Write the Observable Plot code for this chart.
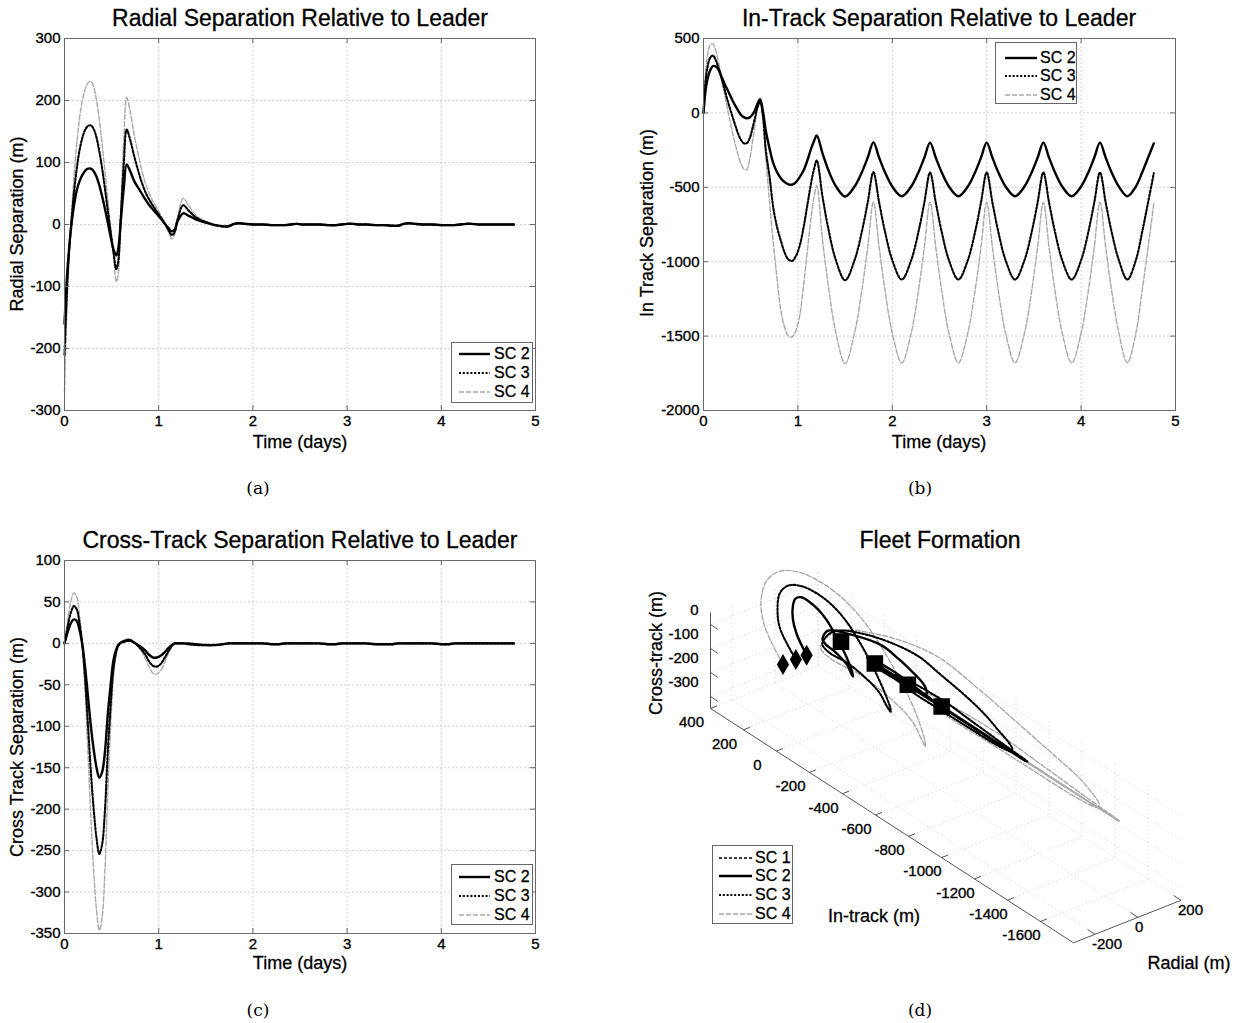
<!DOCTYPE html>
<html><head><meta charset="utf-8">
<script src="https://cdn.jsdelivr.net/npm/d3@7"></script>
<script src="https://cdn.jsdelivr.net/npm/@observablehq/plot@0.6"></script>
<style>
body{margin:0;background:#fff;}
#page{position:relative;width:1239px;height:1023px;overflow:hidden;font-family:"Liberation Sans",Arial,sans-serif;color:#000;}
#page svg text{stroke:#000;stroke-width:0.35px;}
.t{position:absolute;white-space:nowrap;transform:translate(-50%,-50%);-webkit-text-stroke:0.3px #000;}
.title{font-size:23px;}
.alab{font-size:18px;}
.cap{font-family:"DejaVu Serif","Liberation Serif",serif;font-size:17px;-webkit-text-stroke:0;}
.leg{position:absolute;background:#fff;border:1px solid #666;box-sizing:border-box;}
.leg .row{position:absolute;font-size:16px;line-height:16px;-webkit-text-stroke:0.3px #000;}
</style></head><body><div id="page"></div>
<script>
// ---------------- data ----------------
const T = [0,0.02,0.04,0.07,0.1,0.13,0.16,0.19,0.22,0.25,0.28,0.31,0.34,0.37,0.4,0.43,0.46,0.49,0.52,0.55,0.57,0.6,0.63,0.66,0.7,0.74,0.78,0.82,0.86,0.9,0.94,0.98,1.02,1.06,1.1,1.14,1.17,1.2,
 1.26,1.32,1.4,1.5,1.6,1.68,1.74,1.8,
 1.86,1.92,2.0,2.1,2.2,2.28,2.34,2.4,
 2.46,2.52,2.6,2.7,2.8,2.88,2.94,3.0,
 3.06,3.12,3.2,3.3,3.4,3.48,3.54,3.6,
 3.66,3.72,3.8,3.9,4.0,4.08,4.14,4.2,
 4.26,4.32,4.4,4.49,4.58,4.65,4.71,4.77];

const radialSC2 = [-160,-100,-55,-5,30,55,70,80,87,90,90,86,77,63,45,25,3,-20,-40,-50,-40,10,60,97,85,70,60,50,40,31,24,17,10,2,-5,-11,-8,5,
 18,14,8,3,-1,-3,-3,1, 2,1,0,0,-1,-1,-1,0, 1,0,0,0,-1,-1,0,1, 1,0,0,-1,-1,-2,-2,1, 2,1,0,0,-1,-1,-1,0, 1,1,0,0,0,0,0,0];
const radialSC3 = [-210,-130,-65,0,50,90,120,140,153,159,160,154,140,118,90,57,22,-12,-45,-72,-60,20,100,153,135,110,88,68,52,40,30,21,12,3,-8,-17,-12,8,
 31,22,11,4,-1,-3,-3,1, 2,1,0,0,-1,-1,-1,0, 1,0,0,0,-1,-1,0,1, 1,0,0,-1,-1,-2,-2,1, 2,1,0,0,-1,-1,-1,0, 1,1,0,0,0,0,0,0];
const radialSC4 = [-270,-165,-80,5,75,130,172,200,218,228,231,222,200,168,128,85,40,-5,-50,-92,-80,30,140,205,180,145,115,88,66,50,37,27,15,4,-10,-23,-16,10,
 42,30,14,5,-1,-3,-3,1, 2,1,0,0,-1,-1,-1,0, 1,0,0,0,-1,-1,0,1, 1,0,0,-1,-1,-2,-2,1, 2,1,0,0,-1,-1,-1,0, 1,1,0,0,0,0,0,0];

const inTrackSC2 = [0,140,220,285,315,312,290,245,200,160,120,80,45,12,-15,-30,-36,-30,-10,25,60,92,10,-120,-240,-340,-400,-440,-465,-480,-482,-465,-430,-387,-320,-240,-190,-152,
 -270,-380,-490,-562,-495,-395,-300,-198,
 -300,-395,-495,-560,-495,-395,-300,-200,
 -300,-395,-495,-560,-495,-395,-300,-200,
 -300,-395,-495,-560,-495,-395,-300,-200,
 -300,-395,-495,-560,-495,-395,-300,-200,
 -300,-395,-495,-560,-495,-395,-300,-205];
const inTrackSC3 = [0,200,300,370,385,355,300,235,165,95,30,-30,-90,-145,-185,-205,-203,-170,-100,-20,35,75,-20,-250,-430,-640,-770,-860,-940,-985,-995,-960,-890,-770,-620,-470,-380,-320,
 -560,-770,-985,-1125,-990,-790,-600,-398,
 -600,-790,-990,-1120,-990,-790,-600,-400,
 -600,-790,-990,-1120,-990,-790,-600,-400,
 -600,-790,-990,-1120,-990,-790,-600,-400,
 -600,-790,-990,-1120,-990,-790,-600,-400,
 -600,-790,-990,-1120,-990,-790,-600,-405];
const inTrackSC4 = [0,250,380,455,465,420,340,240,140,40,-50,-140,-220,-290,-345,-380,-380,-310,-190,-60,20,70,-60,-300,-600,-880,-1120,-1330,-1440,-1500,-1505,-1460,-1360,-1160,-930,-700,-570,-490,
 -850,-1150,-1470,-1685,-1480,-1180,-900,-600,
 -900,-1180,-1480,-1680,-1480,-1180,-900,-600,
 -900,-1180,-1480,-1680,-1480,-1180,-900,-600,
 -900,-1180,-1480,-1680,-1480,-1180,-900,-600,
 -900,-1180,-1480,-1680,-1480,-1180,-900,-600,
 -900,-1180,-1480,-1680,-1480,-1180,-900,-610];

const crossSC2 = [0,8,16,25,29,27,16,-2,-30,-65,-100,-128,-150,-162,-155,-130,-85,-50,-20,-7,-2,1,2,3,3,1,-2,-5,-9,-14,-17,-17,-15,-11,-6,-2,0,0,
 0,0,-1,-2,-2,-1,0,0, 0,0,0,0,-1,-1,0,0, 0,0,0,0,-1,-1,0,0, 0,0,0,-1,-1,-1,0,0, 0,0,0,0,-1,-1,0,0, 0,0,0,0,0,0,0,0];
const crossSC3 = [0,12,24,38,45,41,24,-3,-45,-100,-155,-200,-235,-254,-242,-200,-130,-75,-30,-10,-3,1,3,4,4,1,-3,-8,-14,-22,-27,-28,-25,-18,-10,-3,0,0,
 0,-1,-2,-2,-2,-1,0,0, 0,0,0,0,-1,-1,0,0, 0,0,0,0,-1,-1,0,0, 0,0,0,-1,-1,-1,0,0, 0,0,0,0,-1,-1,0,0, 0,0,0,0,0,0,0,0];
const crossSC4 = [0,16,33,52,61,56,33,-4,-60,-135,-210,-275,-322,-346,-330,-272,-178,-100,-40,-13,-4,1,4,5,5,1,-4,-10,-19,-29,-36,-37,-33,-24,-13,-4,0,0,
 0,-1,-2,-3,-2,-1,0,0, 0,0,0,0,-1,-1,0,0, 0,0,0,0,-1,-1,0,0, 0,0,0,-1,-1,-1,0,0, 0,0,0,0,-1,-1,0,0, 0,0,0,0,0,0,0,0];

const SERIES = ["SC 2", "SC 3", "SC 4"];
const LEGEND_D = ["SC 1", "SC 2", "SC 3", "SC 4"];
const TIME_TICKS = [0, 1, 2, 3, 4, 5];
const RADIAL_TICKS = [-300, -200, -100, 0, 100, 200, 300];
const INTRACK_TICKS = [-2000, -1500, -1000, -500, 0, 500];
const CROSS_TICKS = [-350, -300, -250, -200, -150, -100, -50, 0, 50, 100];
// 3-D view axes
const D_RADIAL_TICKS = [-200, 0, 200];
const D_INTRACK_TICKS = [400, 200, 0, -200, -400, -600, -800, -1000, -1200, -1400, -1600];
const D_CROSS_TICKS = [0, -100, -200, -300];
const D_RADIAL_LIM = [-300, 200];
const D_INTRACK_LIM = [-1800, 400];
const D_CROSS_LIM = [-350, 50];

// ---------------- styles ----------------
const STYLE = {
  "SC 1": {stroke: "#000", strokeWidth: 1.3, strokeDasharray: "3,2"},
  "SC 2": {stroke: "#000", strokeWidth: 2.4},
  "SC 3": {stroke: "#000", strokeWidth: 2.1, strokeDasharray: "2,1.8"},
  "SC 4": {stroke: "#a9a9a9", strokeWidth: 1.4, strokeDasharray: "5,2"}
};
const FONT = '"Liberation Sans", Arial, sans-serif';
const page = document.getElementById("page");

function addText(txt, x, y, cls, rot) {
  const d = document.createElement("div");
  d.className = "t " + cls;
  d.textContent = txt;
  d.style.left = x + "px"; d.style.top = y + "px";
  if (rot) d.style.transform = "translate(-50%,-50%) rotate(" + rot + "deg)";
  page.appendChild(d);
}

function addLegend(names, left, top, w, h, rowYs, lineX, lineW, textX) {
  const box = document.createElement("div");
  box.className = "leg";
  Object.assign(box.style, {left: left + "px", top: top + "px", width: w + "px", height: h + "px"});
  names.forEach((n, k) => {
    const s = STYLE[n];
    const row = document.createElement("div");
    row.className = "row";
    row.style.left = "0px"; row.style.top = (rowYs[k] - top - 8) + "px";
    row.style.width = w + "px"; row.style.height = "16px";
    const svgNS = "http://www.w3.org/2000/svg";
    const sv = document.createElementNS(svgNS, "svg");
    sv.setAttribute("width", lineW); sv.setAttribute("height", 16);
    sv.style.position = "absolute"; sv.style.left = (lineX - left) + "px"; sv.style.top = "0px";
    const ln = document.createElementNS(svgNS, "line");
    ln.setAttribute("x1", 0); ln.setAttribute("x2", lineW); ln.setAttribute("y1", 8); ln.setAttribute("y2", 8);
    ln.setAttribute("stroke", s.stroke); ln.setAttribute("stroke-width", s.strokeWidth);
    if (s.strokeDasharray) ln.setAttribute("stroke-dasharray", s.strokeDasharray);
    sv.appendChild(ln); row.appendChild(sv);
    const tx = document.createElement("span");
    tx.textContent = n; tx.style.position = "absolute"; tx.style.left = (textX - left) + "px"; tx.style.top = "0px";
    row.appendChild(tx);
    box.appendChild(row);
  });
  page.appendChild(box);
}

function timePanel(o) {
  const pw = o.width - o.mL - o.mR, ph = o.height - o.mT - o.mB;
  const grid = {stroke: "#c8c8c8", strokeOpacity: 1, strokeDasharray: "2,2", strokeWidth: 0.8};
  const marks = [
    Plot.gridX({ticks: TIME_TICKS, ...grid}),
    Plot.gridY({ticks: o.yTicks, ...grid})
  ];
  [2, 1, 0].forEach(k => {
    const rows = T.map((t, j) => ({t, v: o.values[k][j]}));
    marks.push(Plot.line(rows, {x: "t", y: "v", curve: "catmull-rom", ...STYLE[SERIES[k]]}));
  });
  marks.push(
    Plot.ruleX(TIME_TICKS, {stroke: "#666", insetTop: ph - 5}),
    Plot.ruleX(TIME_TICKS, {stroke: "#666", insetBottom: ph - 5}),
    Plot.ruleY(o.yTicks, {stroke: "#666", insetRight: pw - 5}),
    Plot.ruleY(o.yTicks, {stroke: "#666", insetLeft: pw - 5}),
    Plot.frame({stroke: "#6a6a6a"}),
    Plot.axisX({ticks: TIME_TICKS, tickSize: 0, tickPadding: 5, label: null, tickFormat: d => String(d), fontSize: 15}),
    Plot.axisY({ticks: o.yTicks, tickSize: 0, tickPadding: 4, label: null, tickFormat: d => String(d), fontSize: 15})
  );
  const svg = Plot.plot({
    width: o.width, height: o.height,
    marginLeft: o.mL, marginRight: o.mR, marginTop: o.mT, marginBottom: o.mB,
    style: {fontFamily: FONT, fontSize: "15px", color: "#000", background: "transparent", overflow: "visible"},
    x: {domain: [0, 5]},
    y: {domain: o.yDomain},
    marks
  });
  svg.style.position = "absolute"; svg.style.left = o.left + "px"; svg.style.top = o.top + "px";
  page.appendChild(svg);
}

// (a) radial
timePanel({left: 0, top: 0, width: 560, height: 470, mL: 64, mR: 25, mT: 38, mB: 60,
  yDomain: [-300, 300], yTicks: RADIAL_TICKS, values: [radialSC2, radialSC3, radialSC4]});
// (b) in-track
timePanel({left: 620, top: 0, width: 600, height: 470, mL: 83, mR: 45, mT: 38, mB: 60,
  yDomain: [-2000, 500], yTicks: INTRACK_TICKS, values: [inTrackSC2, inTrackSC3, inTrackSC4]});
// (c) cross-track
timePanel({left: 0, top: 520, width: 560, height: 470, mL: 64, mR: 25, mT: 40, mB: 57,
  yDomain: [-350, 100], yTicks: CROSS_TICKS, values: [crossSC2, crossSC3, crossSC4]});

// (d) 3-D fleet formation, oblique projection of (radial, in-track, cross-track)
const D_LEFT = 620, D_TOP = 520, D_W = 619, D_H = 503;
const VIEW = {ox: 710, oy: 708, rx: 0.215, ry: -0.085, ix: 0.165, iy: 0.1065, zy: -0.24};
function proj(r, i, z) {
  const dr = r - D_RADIAL_LIM[0], di = D_INTRACK_LIM[1] - i, dz = z - D_CROSS_LIM[0];
  return [VIEW.ox + dr * VIEW.rx + di * VIEW.ix - D_LEFT,
          VIEW.oy + dr * VIEW.ry + di * VIEW.iy + dz * VIEW.zy - D_TOP];
}
function seg(a, b) { return {x1: a[0], y1: a[1], x2: b[0], y2: b[1]}; }
const [r0, r1] = D_RADIAL_LIM, [i0, i1] = D_INTRACK_LIM, [z0, z1] = D_CROSS_LIM;
const gridSegs = [];
D_RADIAL_TICKS.forEach(r => { gridSegs.push(seg(proj(r, i1, z0), proj(r, i0, z0))); gridSegs.push(seg(proj(r, i1, z0), proj(r, i1, z1))); });
D_INTRACK_TICKS.forEach(i => { gridSegs.push(seg(proj(r0, i, z0), proj(r1, i, z0))); gridSegs.push(seg(proj(r1, i, z0), proj(r1, i, z1))); });
D_CROSS_TICKS.forEach(z => { gridSegs.push(seg(proj(r1, i1, z), proj(r1, i0, z))); gridSegs.push(seg(proj(r0, i1, z), proj(r1, i1, z))); });
const axisSegs = [
  seg(proj(r0, i1, z0), proj(r0, i1, z1)),
  seg(proj(r0, i1, z0), proj(r0, i0, z0)),
  seg(proj(r0, i0, z0), proj(r1, i0, z0))
];
const tickSegs = [];
D_INTRACK_TICKS.forEach(i => tickSegs.push(seg(proj(r0, i, z0), proj(r0 + 30, i, z0))));
D_RADIAL_TICKS.forEach(r => tickSegs.push(seg(proj(r, i0, z0), proj(r, i0 + 45, z0))));
D_CROSS_TICKS.forEach(z => tickSegs.push(seg(proj(r0, i1, z), proj(r0, i1 - 45, z))));

const dMarks = [
  Plot.link(gridSegs, {x1: "x1", y1: "y1", x2: "x2", y2: "y2", stroke: "#dedede", strokeWidth: 0.8, strokeDasharray: "2,2"}),
  Plot.link(axisSegs, {x1: "x1", y1: "y1", x2: "x2", y2: "y2", stroke: "#555", strokeWidth: 1}),
  Plot.link(tickSegs, {x1: "x1", y1: "y1", x2: "x2", y2: "y2", stroke: "#555", strokeWidth: 1})
];
const radArr = [radialSC2, radialSC3, radialSC4], itArr = [inTrackSC2, inTrackSC3, inTrackSC4], ctArr = [crossSC2, crossSC3, crossSC4];
[2, 1, 0].forEach(k => {
  const rows = T.map((t, j) => { const p = proj(radArr[k][j], itArr[k][j], ctArr[k][j]); return {x: p[0], y: p[1]}; });
  dMarks.push(Plot.line(rows, {x: "x", y: "y", curve: "catmull-rom", ...STYLE[SERIES[k]]}));
});
const starts = [0, 1, 2].map(k => { const p = proj(radArr[k][0], itArr[k][0], ctArr[k][0]); return {x: p[0], y: p[1]}; });
const last = T.length - 1;
const ends = [proj(0, 0, 0)].concat([0, 1, 2].map(k => proj(radArr[k][last], itArr[k][last], ctArr[k][last]))).map(p => ({x: p[0], y: p[1]}));
dMarks.push(
  Plot.dot(starts, {x: "x", y: "y", symbol: "diamond", r: 5.5, fill: "#000", stroke: "#000"}),
  Plot.dot(ends, {x: "x", y: "y", symbol: "square", r: 8.5, fill: "#000", stroke: "#000"})
);
const itLabels = D_INTRACK_TICKS.map(i => { const p = proj(r0, i, z0); return {x: p[0], y: p[1], s: String(i)}; });
const radLabels = D_RADIAL_TICKS.map(r => { const p = proj(r, i0, z0); return {x: p[0], y: p[1], s: String(r)}; });
const ctLabels = D_CROSS_TICKS.map(z => { const p = proj(r0, i1, z); return {x: p[0], y: p[1], s: String(z)}; });
dMarks.push(
  Plot.text(itLabels, {x: "x", y: "y", text: "s", dx: -19, dy: 14, textAnchor: "middle", fontSize: 15, fill: "#000"}),
  Plot.text(radLabels, {x: "x", y: "y", text: "s", dx: -3, dy: 10, textAnchor: "start", fontSize: 15, fill: "#000"}),
  Plot.text(ctLabels, {x: "x", y: "y", text: "s", dx: -12, dy: -14, textAnchor: "end", fontSize: 15, fill: "#000"})
);
const dSvg = Plot.plot({
  width: D_W, height: D_H, margin: 0,
  style: {fontFamily: FONT, fontSize: "15px", color: "#000", background: "transparent", overflow: "visible"},
  x: {domain: [0, D_W], range: [0, D_W], axis: null},
  y: {domain: [0, D_H], range: [0, D_H], axis: null},
  marks: dMarks
});
dSvg.style.position = "absolute"; dSvg.style.left = D_LEFT + "px"; dSvg.style.top = D_TOP + "px";
page.appendChild(dSvg);

// ---------------- titles, labels, legends, captions ----------------
addText("Radial Separation Relative to Leader", 300, 18, "title");
addText("In-Track Separation Relative to Leader", 939, 18, "title");
addText("Cross-Track Separation Relative to Leader", 300, 540, "title");
addText("Fleet Formation", 940, 540, "title");
addText("Time (days)", 300, 442, "alab");
addText("Time (days)", 939, 442, "alab");
addText("Time (days)", 300, 963, "alab");
addText("Radial Separation (m)", 17, 224, "alab", -90);
addText("In Track Separation (m)", 647, 223, "alab", -90);
addText("Cross Track Separation (m)", 17, 747, "alab", -90);
addText("Cross-track (m)", 656, 653, "alab", -90);
addText("In-track (m)", 874, 916, "alab");
addText("Radial (m)", 1189, 963, "alab");
addText("(a)", 258, 488, "cap");
addText("(b)", 920, 488, "cap");
addText("(c)", 258, 1010, "cap");
addText("(d)", 920, 1010, "cap");

addLegend(SERIES, 451, 342, 82, 61, [353, 372, 391], 458, 31, 493);
addLegend(SERIES, 995, 42, 82, 62, [57, 75, 94], 1004, 32, 1039);
addLegend(SERIES, 451, 864, 82, 61, [876, 895, 914], 458, 31, 493);
addLegend(LEGEND_D, 712, 845, 81, 79, [857, 875, 894, 913], 718, 33, 754);
</script>
</body></html>
